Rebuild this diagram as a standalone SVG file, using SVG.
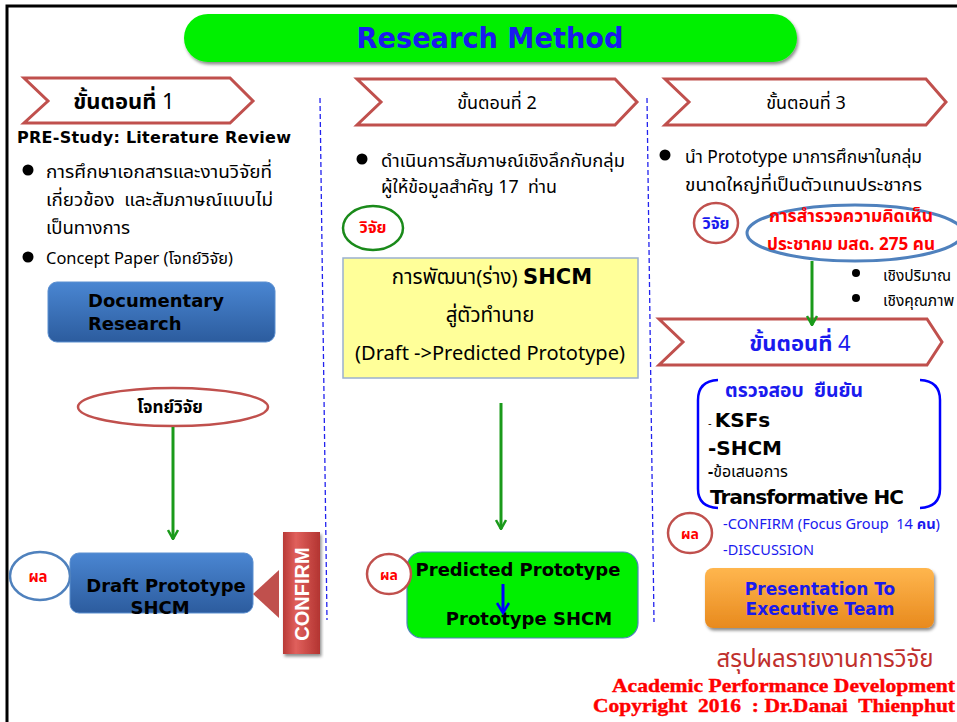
<svg xmlns="http://www.w3.org/2000/svg" width="957" height="722" viewBox="0 0 957 722">
<defs>
<style>
.th{font-family:"Noto Sans Thai","Liberation Sans","DejaVu Sans",sans-serif;}
.cm{font-family:"DejaVu Sans","Liberation Sans",sans-serif;font-weight:bold;}
.chev{fill:#ffffff;stroke:#C0504D;stroke-width:3;}
.arrow{stroke:#1A9A1A;stroke-width:3;fill:none;}
.dash{stroke:#2222EE;stroke-width:1.3;stroke-dasharray:5,3;fill:none;}
.ov-red{fill:#ffffff;stroke:#C0504D;stroke-width:2.5;}
.ov-blue{fill:#ffffff;stroke:#4F81BD;stroke-width:2.5;}
.redt{fill:#FF0000;font-weight:bold;}
.ft{font-family:"Liberation Serif",serif;font-weight:bold;font-size:19px;fill:#FF0000;stroke:#FF0000;stroke-width:0.4;}
</style>
<linearGradient id="gBlue" x1="0" y1="0" x2="0" y2="1">
<stop offset="0" stop-color="#4A86D2"/><stop offset="1" stop-color="#2C5C9E"/>
</linearGradient>
<linearGradient id="gRed" x1="0" y1="0" x2="1" y2="0">
<stop offset="0" stop-color="#B83A37"/><stop offset="0.35" stop-color="#E0605C"/><stop offset="1" stop-color="#B33431"/>
</linearGradient>
<linearGradient id="gOrange" x1="0" y1="0" x2="0" y2="1">
<stop offset="0" stop-color="#FFB64E"/><stop offset="1" stop-color="#E88A1E"/>
</linearGradient>
<filter id="sh" x="-10%" y="-20%" width="120%" height="150%">
<feDropShadow dx="1.5" dy="2.5" stdDeviation="1.5" flood-color="#000" flood-opacity="0.45"/>
</filter>
<marker id="vh" viewBox="0 0 12 12" refX="11" refY="6" markerWidth="12" markerHeight="12" markerUnits="userSpaceOnUse" orient="auto">
<path d="M2,1 L11,6 L2,11" fill="none" stroke="#1A9A1A" stroke-width="2.5"/>
</marker>
</defs>
<rect width="957" height="722" fill="#ffffff"/>
<!-- frame -->
<path d="M7,722 L7,6 L957,6" fill="none" stroke="#000" stroke-width="3"/>

<!-- title -->
<g id="title">
<rect x="184" y="14" width="613" height="48" rx="24" fill="#00F000" filter="url(#sh)"/>
<text x="490" y="48" text-anchor="middle" class="cm" font-size="28" fill="#1A1AEE" textLength="267" lengthAdjust="spacingAndGlyphs">Research Method</text>
</g>

<!-- column separators -->
<g id="separators">
<line class="dash" x1="320" y1="98" x2="327" y2="620"/>
<line class="dash" x1="647" y1="98" x2="654" y2="622"/>
</g>

<!-- step chevrons -->
<g id="step1">
<polygon class="chev" points="24,78 230,78 253,101 230,123 24,123 48,101"/>
<text x="124" y="109" text-anchor="middle" class="th" font-size="22" fill="#000"><tspan font-weight="bold">ขั้นตอนที่</tspan> 1</text>
</g>
<g id="step2">
<polygon class="chev" points="357,79 615,79 637,102 615,125 357,125 381,102"/>
<text x="497" y="109" text-anchor="middle" class="th" font-size="18" fill="#000">ขั้นตอนที่ 2</text>
</g>
<g id="step3">
<polygon class="chev" points="665,79 926,79 946,102 926,125 665,125 689,102"/>
<text x="806" y="109" text-anchor="middle" class="th" font-size="18" fill="#000">ขั้นตอนที่ 3</text>
</g>

<!-- column 1 -->
<g id="col1-text">
<text x="17" y="143" class="cm" font-size="16" fill="#000" textLength="274">PRE-Study: Literature Review</text>
<circle cx="28" cy="170" r="5.5" fill="#000"/>
<text x="46" y="178" class="th" font-size="18.5" fill="#000" textLength="226" lengthAdjust="spacingAndGlyphs">การศึกษาเอกสารและงานวิจัยที่</text>
<text x="46" y="206" class="th" font-size="18.5" fill="#000" textLength="227" lengthAdjust="spacingAndGlyphs" xml:space="preserve">เกี่ยวข้อง  และสัมภาษณ์แบบไม่</text>
<text x="46" y="234" class="th" font-size="18.5" fill="#000">เป็นทางการ</text>
<circle cx="28" cy="257" r="5.5" fill="#000"/>
<text x="46" y="264" class="th" font-size="16" fill="#000" textLength="187" lengthAdjust="spacingAndGlyphs">Concept Paper (โจทย์วิจัย)</text>
</g>
<g id="documentary">
<rect x="48" y="282" width="227" height="60" rx="9" fill="url(#gBlue)" stroke="#5B8FD0" stroke-width="1"/>
<text x="88" y="307" class="cm" font-size="18" fill="#000">Documentary</text>
<text x="88" y="330" class="cm" font-size="18" fill="#000">Research</text>
</g>
<g id="problem">
<ellipse class="ov-red" cx="173" cy="407" rx="95" ry="19"/>
<text x="170" y="413" text-anchor="middle" class="th" font-size="17" font-weight="bold" fill="#000">โจทย์วิจัย</text>
</g>
<g id="draft">
<rect x="70" y="553" width="183" height="60" rx="9" fill="url(#gBlue)" stroke="#5B8FD0" stroke-width="1"/>
<text x="166" y="592" text-anchor="middle" class="cm" font-size="18" fill="#000">Draft Prototype</text>
<text x="160" y="614" text-anchor="middle" class="cm" font-size="18" fill="#000">SHCM</text>
</g>
<g id="result1">
<ellipse class="ov-blue" cx="40" cy="576" rx="30" ry="24"/>
<text x="38" y="582" text-anchor="middle" class="th redt" font-size="15">ผล</text>
</g>
<g id="confirm">
<polygon points="253,594 279,570 279,618" fill="#C0504D"/>
<rect x="283" y="532" width="37" height="122" fill="url(#gRed)" filter="url(#sh)"/>
<text transform="translate(309,594) rotate(-90)" text-anchor="middle" font-family="Liberation Sans, Arial, sans-serif" font-weight="bold" font-size="20" fill="#ffffff">CONFIRM</text>
</g>

<!-- column 2 -->
<g id="col2-text">
<circle cx="362" cy="159" r="5.5" fill="#000"/>
<text x="381" y="167" class="th" font-size="17.5" fill="#000" textLength="244" lengthAdjust="spacingAndGlyphs">ดำเนินการสัมภาษณ์เชิงลึกกับกลุ่ม</text>
<text x="381" y="193" class="th" font-size="17.5" fill="#000" textLength="176" lengthAdjust="spacingAndGlyphs" xml:space="preserve">ผู้ให้ข้อมูลสำคัญ 17  ท่าน</text>
</g>
<g id="research2">
<ellipse cx="373" cy="228" rx="30" ry="22" fill="#fff" stroke="#1A8A1A" stroke-width="2.5"/>
<text x="373" y="233" text-anchor="middle" class="th redt" font-size="16">วิจัย</text>
</g>
<g id="develop">
<rect x="343" y="258" width="295" height="120" fill="#FFFF99" stroke="#9BB0D0" stroke-width="1.5"/>
<text x="492" y="284" text-anchor="middle" class="th" font-size="20.5" fill="#000">การพัฒนา(ร่าง) <tspan class="cm" font-size="21">SHCM</tspan></text>
<text x="490" y="322" text-anchor="middle" class="th" font-size="20.5" fill="#000">สู่ตัวทำนาย</text>
<text x="490" y="360" text-anchor="middle" class="th" font-size="20.5" fill="#000" textLength="270" lengthAdjust="spacingAndGlyphs">(Draft -&gt;Predicted Prototype)</text>
</g>
<g id="predicted">
<rect x="407" y="552" width="231" height="86" rx="15" fill="#00F000" stroke="#4F81BD" stroke-width="1.2"/>
<text x="518" y="576" text-anchor="middle" class="cm" font-size="18" fill="#000">Predicted Prototype</text>
<text x="529" y="625" text-anchor="middle" class="cm" font-size="18" fill="#000">Prototype SHCM</text>
<line x1="503" y1="584" x2="503" y2="612" stroke="#0000FF" stroke-width="3"/>
<path d="M497,603 L503,613 L509,603" fill="none" stroke="#0000FF" stroke-width="2.5"/>
</g>
<g id="result2">
<ellipse class="ov-red" cx="389" cy="574" rx="22" ry="20"/>
<text x="389" y="580" text-anchor="middle" class="th redt" font-size="14">ผล</text>
</g>

<!-- column 3 -->
<g id="col3-text">
<circle cx="665" cy="155" r="5.5" fill="#000"/>
<text x="685" y="163" class="th" font-size="17.5" fill="#000" textLength="237" lengthAdjust="spacingAndGlyphs">นำ Prototype มาการศึกษาในกลุ่ม</text>
<text x="685" y="191" class="th" font-size="17.5" fill="#000" textLength="237" lengthAdjust="spacingAndGlyphs">ขนาดใหญ่ที่เป็นตัวแทนประชากร</text>
</g>
<g id="research3">
<ellipse class="ov-red" cx="716" cy="223" rx="22" ry="20"/>
<text x="716" y="229" text-anchor="middle" class="th" font-size="16" font-weight="bold" fill="#1A1AEE">วิจัย</text>
</g>
<g id="survey">
<ellipse cx="855" cy="233" rx="108" ry="28" fill="#fff" stroke="#4F81BD" stroke-width="3"/>
<text x="851" y="222" text-anchor="middle" class="th redt" font-size="17" textLength="164" lengthAdjust="spacingAndGlyphs">การสำรวจความคิดเห็น</text>
<text x="851" y="250" text-anchor="middle" class="th redt" font-size="17" textLength="168" lengthAdjust="spacingAndGlyphs">ประชาคม มสด. 275 คน</text>
</g>
<g id="types">
<circle cx="856" cy="273" r="4" fill="#000"/>
<text x="883" y="281" class="th" font-size="15.5" fill="#000">เชิงปริมาณ</text>
<circle cx="856" cy="298" r="4" fill="#000"/>
<text x="883" y="306" class="th" font-size="15.5" fill="#000">เชิงคุณภาพ</text>
</g>
<g id="step4">
<polygon class="chev" points="659,319 927,319 942,342 927,365 659,365 683,342"/>
<text x="800" y="351" text-anchor="middle" class="th" font-size="22" fill="#1A1AEE"><tspan font-weight="bold">ขั้นตอนที่</tspan> 4</text>
</g>
<g id="verify">
<path d="M718,380 Q698,381 698,400 L698,489 Q698,507 718,508" fill="none" stroke="#0000FF" stroke-width="2.5"/>
<path d="M920,380 Q940,381 940,400 L940,489 Q940,507 920,508" fill="none" stroke="#0000FF" stroke-width="2.5"/>
<text x="725" y="397" class="th" font-size="19.5" font-weight="bold" fill="#1A1AEE" textLength="138" lengthAdjust="spacingAndGlyphs" xml:space="preserve">ตรวจสอบ  ยืนยัน</text>
<text x="708" y="427" class="cm" font-size="20" fill="#000"><tspan font-size="10" font-weight="normal">- </tspan>KSFs</text>
<text x="708" y="455" class="cm" font-size="20" fill="#000">-SHCM</text>
<text x="708" y="477" class="th" font-size="16" fill="#000"><tspan font-weight="bold">-</tspan>ข้อเสนอการ</text>
<text x="710" y="504" class="cm" font-size="20" fill="#000" textLength="194">Transformative HC</text>
</g>
<g id="result3">
<ellipse class="ov-red" cx="690" cy="533" rx="22" ry="20"/>
<text x="690" y="539" text-anchor="middle" class="th redt" font-size="14">ผล</text>
<text x="723" y="529" class="th" font-size="14.5" fill="#1A1AEE" textLength="217" lengthAdjust="spacingAndGlyphs" xml:space="preserve">-CONFIRM (Focus Group  14 <tspan font-weight="bold">คน</tspan>)</text>
<text x="723" y="555" class="th" font-size="14.5" fill="#1A1AEE">-DISCUSSION</text>
</g>
<g id="presentation">
<rect x="705" y="568" width="229" height="60" rx="8" fill="url(#gOrange)" filter="url(#sh)"/>
<text x="820" y="595" text-anchor="middle" class="cm" font-size="17" fill="#1A1AEE">Presentation To</text>
<text x="820" y="615" text-anchor="middle" class="cm" font-size="17" fill="#1A1AEE">Executive Team</text>
</g>

<!-- connectors -->
<g id="connectors">
<line class="arrow" x1="173" y1="427" x2="173" y2="539" marker-end="url(#vh)"/>
<line class="arrow" x1="501" y1="403" x2="501" y2="529" marker-end="url(#vh)"/>
<line class="arrow" x1="812" y1="261" x2="812" y2="325" marker-end="url(#vh)"/>
</g>

<!-- footer -->
<g id="footer">
<text x="825" y="667" text-anchor="middle" class="th" font-size="24" fill="#C0302D" textLength="217" lengthAdjust="spacingAndGlyphs">สรุปผลรายงานการวิจัย</text>
<text x="955" y="692" text-anchor="end" class="ft" textLength="343" lengthAdjust="spacingAndGlyphs">Academic Performance Development</text>
<text x="955" y="712" text-anchor="end" class="ft" textLength="362" lengthAdjust="spacingAndGlyphs" xml:space="preserve">Copyright  2016  : Dr.Danai  Thienphut</text>
</g>
</svg>
